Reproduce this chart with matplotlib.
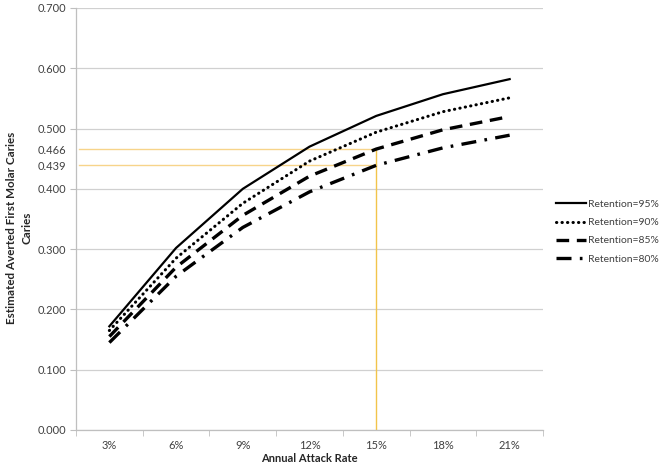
import matplotlib
matplotlib.use("Agg")
import matplotlib.pyplot as plt
import numpy as np

categories = ["3%", "6%", "9%", "12%", "15%", "18%", "21%"]
ret95 = [0.172, 0.302, 0.400, 0.470, 0.521, 0.557, 0.582]
ret90 = [0.165, 0.285, 0.376, 0.446, 0.494, 0.528, 0.551]
ret85 = [0.155, 0.270, 0.356, 0.421, 0.466, 0.498, 0.520]
ret80 = [0.145, 0.255, 0.336, 0.395, 0.439, 0.468, 0.489]
highlight_vals = [0.466, 0.439]
highlight_cat = "15%"

plt.rcParams['font.family'] = ['Lato', 'DejaVu Sans']

fig = plt.figure(figsize=(6.59, 4.67), dpi=100)
ax = fig.add_axes([76/659, 1-430/467, (543-76)/659, (430-8)/467])

x = np.arange(len(categories))
ax.plot(x, ret95, color='black', lw=1.6, ls='-', label='Retention=95%')
ax.plot(x, ret90, color='black', lw=2.2, ls=(0, (0.1, 1.7)), dash_capstyle='round', label='Retention=90%')
ax.plot(x, ret85, color='black', lw=2.4, ls=(0, (3.8, 2.3)), label='Retention=85%')
ax.plot(x, ret80, color='black', lw=2.4, ls=(0, (4.5, 2.5, 0.8, 2.5)), label='Retention=80%')

hx = categories.index(highlight_cat)
ycol = '#F2C44B'
ax.plot([-0.45, hx], [highlight_vals[0]]*2, color='#F7D48A', lw=1.0, zorder=1)
ax.plot([-0.45, hx], [highlight_vals[1]]*2, color='#F7D48A', lw=1.0, zorder=1)
ax.plot([hx, hx], [0, highlight_vals[0]], color=ycol, lw=1.0, zorder=1)

ax.set_xlim(-0.5, len(categories)-0.5)
ax.set_ylim(0, 0.7)
ax.set_yticks(np.arange(0, 0.71, 0.1))
ax.set_yticklabels([f"{v:.3f}" for v in np.arange(0, 0.71, 0.1)])
ax.set_yticks(highlight_vals, minor=True)
ax.set_yticklabels([f"{v:.3f}" for v in highlight_vals], minor=True)
ax.tick_params(axis='y', which='minor', length=0, pad=7, labelsize=8, labelcolor='#404040')
ax.yaxis.grid(True, which='major', color='#D0D0D0', lw=0.9)
ax.set_axisbelow(True)

ax.set_xticks(x)
ax.set_xticklabels(categories)
ax.set_xticks(np.arange(-0.5, len(categories)), minor=True)
ax.tick_params(axis='x', which='major', length=0, pad=7, labelsize=8, labelcolor='#404040')
ax.tick_params(axis='x', which='minor', length=4, color='#BFBFBF', direction='out')
ax.tick_params(axis='y', which='major', length=4, color='#BFBFBF', labelsize=8, labelcolor='#404040', pad=3)

for s in ['top', 'right']:
    ax.spines[s].set_visible(False)
for s in ['left', 'bottom']:
    ax.spines[s].set_color('#BFBFBF')
    ax.spines[s].set_linewidth(0.9)

ax.set_xlabel('Annual Attack Rate', fontsize=8, fontweight='bold', color='#262626', labelpad=2)
fig.text(19/659, 1-228/467, 'Estimated Averted First Molar Caries\nCaries', rotation=90,
         ha='center', va='center', fontsize=8.4, fontweight='bold', color='#262626', linespacing=1.5)

leg = ax.legend(loc='center left', bbox_to_anchor=(1.018, 0.47), frameon=False, fontsize=7.5,
                handlelength=2.9, handletextpad=0.2, labelspacing=0.85, borderaxespad=0)
for t in leg.get_texts():
    t.set_color('#404040')

fig.savefig('out.png', dpi=100)
